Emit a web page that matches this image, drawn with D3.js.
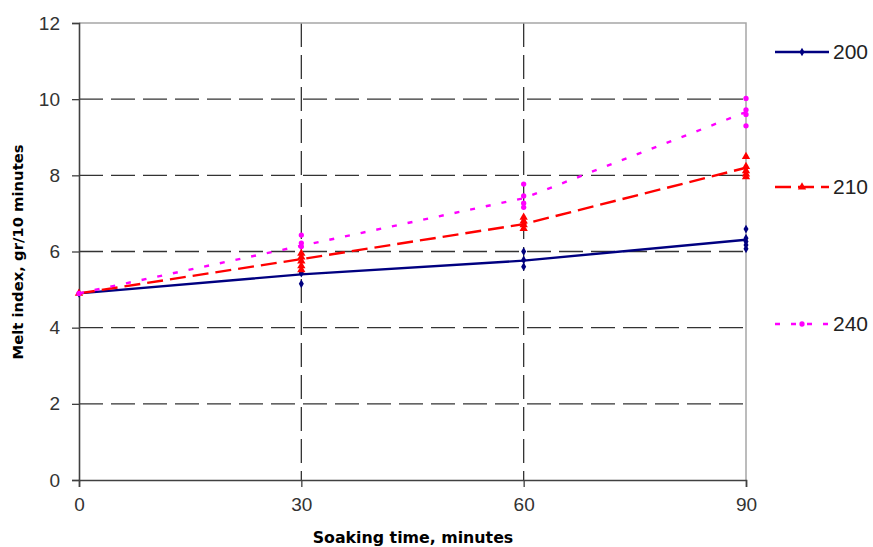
<!DOCTYPE html>
<html lang="en">
<head>
    <meta charset="UTF-8">
    <title>Melt index vs soaking time</title>
    <script src="https://cdn.jsdelivr.net/npm/d3@7"></script>
</head>
<body style="margin:0;background:#fff;">
<svg width="873" height="547"></svg>
<script>

    // soaking time, minutes
    var times = [0, 30, 60, 90];
    var seriesNames = ["200", "210", "240"];

    // line values (mean per time)
    var line200 = [4.90, 5.40, 5.76, 6.31];
    var line210 = [4.90, 5.80, 6.72, 8.20];
    var line240 = [4.90, 6.15, 7.40, 9.66];

    // replicate measurements, one list per time
    var pts200 = [[4.90], [5.47, 5.43, 5.15], [6.00, 5.78, 5.60], [6.59, 6.35, 6.26, 6.17, 6.07]];
    var pts210 = [[4.90], [5.95, 5.85, 5.75, 5.62, 5.52], [6.90, 6.80, 6.70, 6.60], [8.49, 8.23, 8.12, 8.03, 7.96]];
    var pts240 = [[4.90], [6.43, 6.22, 6.13], [7.77, 7.46, 7.27, 7.16], [10.02, 9.72, 9.60, 9.30]];

    var yTicks = [0, 2, 4, 6, 8, 10, 12];

    var svg = d3.select("svg"),
        margin = {top: 23, right: 127, bottom: 67, left: 79},
        width = +svg.attr("width") - margin.left - margin.right,
        height = +svg.attr("height") - margin.top - margin.bottom;

    var xScale = d3.scaleLinear().domain([0, 90]).range([0, width]),
        yScale = d3.scaleLinear().domain([0, 12]).range([height, 0]);

    var g = svg.append("g")
        .attr("transform", "translate(" + margin.left + "," + margin.top + ")");

    // grid
    g.selectAll(".hgrid")
        .data(yTicks.filter(function(d) { return d > 0 && d < 12; }))
        .enter().append("line")
        .attr("x1", 0).attr("x2", width)
        .attr("y1", function(d) { return yScale(d); })
        .attr("y2", function(d) { return yScale(d); })
        .attr("stroke", "#333").attr("stroke-width", 1.3)
        .attr("stroke-dasharray", "24,8");

    g.selectAll(".vgrid")
        .data([30, 60])
        .enter().append("line")
        .attr("y1", 0).attr("y2", height)
        .attr("x1", function(d) { return xScale(d); })
        .attr("x2", function(d) { return xScale(d); })
        .attr("stroke", "#333").attr("stroke-width", 1.3)
        .attr("stroke-dasharray", "24,8");

    // top and right border
    g.append("path")
        .attr("d", "M0,0H" + width + "V" + height)
        .attr("fill", "none").attr("stroke", "#a6a6a6").attr("stroke-width", 1.5);

    // axes
    var yAxis = g.append("g")
        .call(d3.axisLeft(yScale).tickValues(yTicks).tickSize(7).tickPadding(12));
    var xAxis = g.append("g")
        .attr("transform", "translate(0," + height + ")")
        .call(d3.axisBottom(xScale).tickValues(times).tickSize(7).tickPadding(11));

    [yAxis, xAxis].forEach(function(a) {
        a.select(".domain").attr("stroke", "#404040").attr("stroke-width", 1.6);
        a.selectAll(".tick line").attr("stroke", "#404040").attr("stroke-width", 1.3);
        a.selectAll("text")
            .attr("font-family", "Liberation Sans, Arial, sans-serif")
            .attr("font-size", 19).attr("fill", "#333");
    });

    var series = [
        {name: seriesNames[0], line: line200, pts: pts200, color: "#000080", dash: null, marker: d3.symbolDiamond, size: 22, legendY: 52},
        {name: seriesNames[1], line: line210, pts: pts210, color: "#ff0000", dash: "16,7", marker: d3.symbolTriangle, size: 30, legendY: 187},
        {name: seriesNames[2], line: line240, pts: pts240, color: "#ff00ff", dash: "5,11", marker: d3.symbolCircle, size: 22, legendY: 324}
    ];

    var lineGen = d3.line()
        .x(function(d, i) { return xScale(times[i]); })
        .y(function(d) { return yScale(d); });

    series.forEach(function(s) {
        g.append("path")
            .datum(s.line)
            .attr("d", lineGen)
            .attr("fill", "none")
            .attr("stroke", s.color)
            .attr("stroke-width", 2.4)
            .attr("stroke-dasharray", s.dash);

        var flat = [];
        s.pts.forEach(function(list, i) {
            list.forEach(function(v) { flat.push({t: times[i], v: v}); });
        });

        g.selectAll(null)
            .data(flat)
            .enter().append("path")
            .attr("d", d3.symbol().type(s.marker).size(s.size))
            .attr("transform", function(d) { return "translate(" + xScale(d.t) + "," + yScale(d.v) + ")"; })
            .attr("fill", s.color);

        // legend
        var lg = svg.append("g").attr("transform", "translate(775," + s.legendY + ")");
        lg.append("line")
            .attr("x1", 0).attr("x2", 54)
            .attr("stroke", s.color).attr("stroke-width", 2.4)
            .attr("stroke-dasharray", s.dash);
        lg.append("path")
            .attr("d", d3.symbol().type(s.marker).size(s.size))
            .attr("transform", "translate(27,0)")
            .attr("fill", s.color);
        lg.append("text")
            .attr("x", 58).attr("y", 7)
            .attr("font-family", "Liberation Sans, Arial, sans-serif")
            .attr("font-size", 21).attr("fill", "#222")
            .text(s.name);
    });

    // axis titles
    svg.append("text")
        .attr("x", 413).attr("y", 543)
        .attr("text-anchor", "middle")
        .attr("font-family", "DejaVu Sans, sans-serif")
        .attr("font-size", 15.8).attr("font-weight", "bold")
        .text("Soaking time, minutes");

    svg.append("text")
        .attr("transform", "translate(23,252) rotate(-90)")
        .attr("text-anchor", "middle")
        .attr("font-family", "DejaVu Sans, sans-serif")
        .attr("font-size", 14.8).attr("font-weight", "bold")
        .text("Melt index, gr/10 minutes");
</script>
</body>
</html>
